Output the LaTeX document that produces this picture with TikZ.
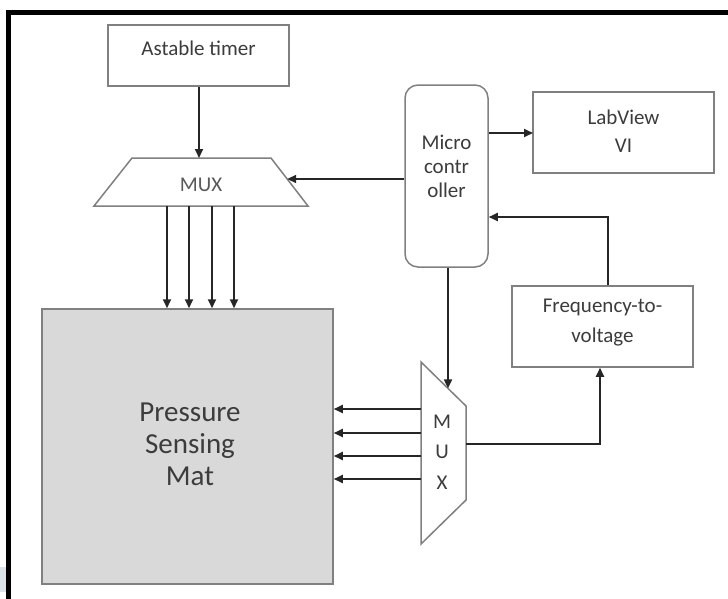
\documentclass[tikz,border=0pt]{standalone}
\usepackage{fontspec}
\setmainfont{Carlito}
\usetikzlibrary{arrows.meta,calc}
\definecolor{boxgray}{RGB}{128,128,128}
\definecolor{linecol}{RGB}{38,38,38}
\definecolor{txtcol}{RGB}{60,60,60}
\definecolor{matfill}{RGB}{217,217,217}
\definecolor{smudge}{RGB}{220,227,232}
\begin{document}
\begin{tikzpicture}[x=1pt,y=-1pt,
  box/.style={draw=boxgray, line width=1.5pt, inner sep=0pt, fill=white},
  txt/.style={text=txtcol, font=\fontsize{21}{24}\selectfont, align=center, inner sep=0pt},
  arr/.style={draw=linecol, line width=1.8pt, -{Triangle[length=9pt,width=8pt]}}]
\useasboundingbox (0,0) rectangle (728,598);
\fill[smudge] (0,567) rectangle (5.5,592);
\draw[line width=5pt, black, line cap=rect] (8,598) -- (8,12.5) -- (728,12.5);

% boxes
\node[box, minimum width=181pt, minimum height=61pt] (astable) at (198.5,55.5) {};
\node[txt] (astablet) at (198.5,48) {Astable timer};

\node[box, rounded corners=13pt, minimum width=83pt, minimum height=182pt] (micro) at (446.5,176) {};
\node[txt, font=\fontsize{21}{24}\selectfont] (microt) at (446.5,166.5) {Micro\\contr\\oller};

\node[box, minimum width=181pt, minimum height=81pt] (labview) at (623.5,132.5) {};
\node[txt, font=\fontsize{21}{28}\selectfont] (labviewt) at (623.5,131) {LabView\\VI};

\node[box, minimum width=181pt, minimum height=81pt] (f2v) at (602.5,326.5) {};
\node[txt, font=\fontsize{21}{30}\selectfont] (f2vt) at (602.5,323) {Frequency-to-\\voltage};

\node[box, fill=matfill, minimum width=291pt, minimum height=275pt] (mat) at (187.5,446.5) {};
\node[txt, font=\fontsize{29}{32}\selectfont] (matt) at (190,444) {Pressure\\Sensing\\Mat};

% MUX 1
\coordinate (m1tl) at (132,158);
\coordinate (m1tr) at (271,158);
\coordinate (m1br) at (308,206);
\coordinate (m1bl) at (94,206);
\draw[box] (m1tl) -- (m1tr) -- (m1br) -- (m1bl) -- cycle;
\node[txt, text=txtcol!85] (mux1t) at (201,185) {MUX};

% MUX 2
\coordinate (m2tl) at (421,362);
\coordinate (m2tr) at (466,406);
\coordinate (m2br) at (466,500);
\coordinate (m2bl) at (421,544);
\draw[box] (m2tl) -- (m2tr) -- (m2br) -- (m2bl) -- cycle;
\node[txt, font=\fontsize{21}{30.5}\selectfont] (mux2t) at (442,452) {M\\U\\X};

% connectors
\coordinate (m1top) at (199,158);
\draw[arr] (astable.south -| m1top) -- (m1top);
\coordinate (m1r) at ($(m1tr)!0.4375!(m1br)$);
\draw[arr] (micro.west |- m1r) -- (m1r);
\coordinate (lvin) at (533,133);
\draw[arr] (lvin -| micro.east) -- (lvin);
\coordinate (fbk) at (608,217);
\draw[arr] (f2v.north -| fbk) -- (fbk) -- (fbk -| micro.east);
\coordinate (m2in) at ($(m2tl)!0.6!(m2tr)$);
\draw[arr] (m2in |- micro.south) -- (m2in);
\foreach \y in {409,433,456,479}
  \draw[arr] (m2tl |- 0,\y) -- (mat.east |- 0,\y);
\foreach \x in {167,189,212,234}
  \draw[arr] (m1bl -| \x,0) -- (mat.north -| \x,0);
\coordinate (m2out) at (466,444);
\coordinate (f2vin) at (600,444);
\draw[arr] (m2out) -- (f2vin) -- (f2vin |- f2v.south);
\end{tikzpicture}
\end{document}
